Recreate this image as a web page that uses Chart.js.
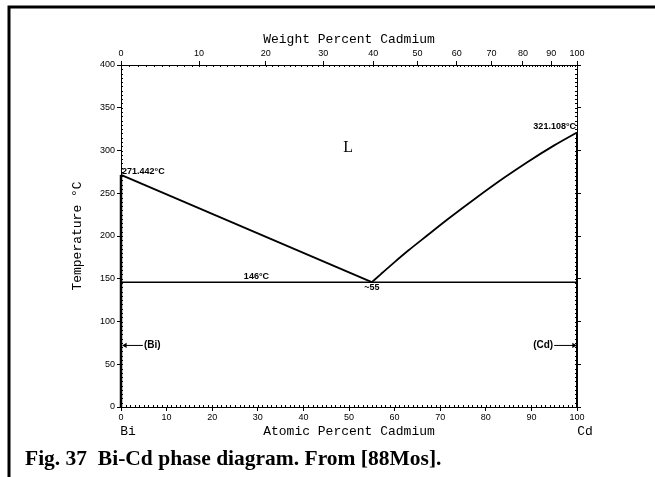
<!DOCTYPE html>
<html>
<head>
<meta charset="utf-8">
<script src="https://cdn.jsdelivr.net/npm/chart.js@4.4.1/dist/chart.umd.min.js"></script>
<style>
html, body { margin: 0; padding: 0; background: #fff; }
#wrap { position: relative; width: 655px; height: 477px; }
</style>
</head>
<body>
<div id="wrap"><canvas id="phase" width="655" height="477"></canvas></div>
<script>
// Bi-Cd phase diagram (atomic % Cd vs temperature)

const liqBiX = [0, 55];
const liqBiT = [271.442, 146];
const liqCdX = [55, 57, 60, 63, 67, 72, 78, 84, 89, 95, 100];
const liqCdT = [146, 155.5, 169.5, 183, 200, 221, 245, 268, 286, 306, 321.108];
const eutX = [0, 100];
const eutT = [146, 146];
const biPureT = [0, 271.442];
const cdPureT = [0, 321.108];
const biArrowX = [0.9, 4.8];
const cdArrowX = [95, 99.3];
const arrowT = [72, 72];

const atTicks = [0, 10, 20, 30, 40, 50, 60, 70, 80, 90, 100];
const tempTicks = [0, 50, 100, 150, 200, 250, 300, 350, 400];
const wtTicks = [0, 10, 20, 30, 40, 50, 60, 70, 80, 90, 100];

const M_BI = 208.98;
const M_CD = 112.41;

// weight % Cd -> atomic % Cd
function wtToAt(w) {
    const nCd = w / M_CD;
    const nBi = (100 - w) / M_BI;
    return nCd / (nCd + nBi) * 100;
}

const pts = (xs, ys) => xs.map((x, i) => ({ x: x, y: ys[i] }));

const lineSet = (data, width) => ({
    data: data,
    showLine: true,
    borderColor: '#000',
    borderWidth: width,
    pointRadius: 0,
    clip: 6
});

const tickFont = { family: 'Liberation Sans', size: 9 };

function axisGrid(len) {
    return { drawOnChartArea: false, drawTicks: true, tickLength: len, color: '#000', lineWidth: 1 };
}

// small minor ticks and all the loose text
const decorPlugin = {
    id: 'decor',
    afterDraw(chart) {
        const ctx = chart.ctx;
        const sx = chart.scales.x;
        const sy = chart.scales.y;
        const area = chart.chartArea;

        ctx.save();
        ctx.strokeStyle = '#000';
        ctx.lineWidth = 1;
        ctx.beginPath();
        for (let a = 0; a <= 100; a++) {
            const px = Math.round(sx.getPixelForValue(a)) + 0.5;
            ctx.moveTo(px, area.bottom);
            ctx.lineTo(px, area.bottom - 2);
        }
        for (let w = 0; w <= 100; w++) {
            const px = Math.round(sx.getPixelForValue(wtToAt(w))) + 0.5;
            ctx.moveTo(px, area.top);
            ctx.lineTo(px, area.top + 2);
        }
        for (let t = 0; t <= 400; t += 5) {
            const py = Math.round(sy.getPixelForValue(t)) + 0.5;
            ctx.moveTo(area.left, py);
            ctx.lineTo(area.left + 2, py);
            ctx.moveTo(area.right, py);
            ctx.lineTo(area.right - 2, py);
        }
        ctx.stroke();

        // page frame
        ctx.lineWidth = 3;
        ctx.beginPath();
        ctx.moveTo(9, 477);
        ctx.lineTo(9, 7);
        ctx.lineTo(655, 7);
        ctx.stroke();

        ctx.fillStyle = '#000';
        const midX = (area.left + area.right) / 2;

        ctx.font = '13px "Liberation Mono"';
        ctx.textAlign = 'center';
        ctx.textBaseline = 'middle';
        ctx.fillText('Weight Percent Cadmium', midX, 40);
        ctx.fillText('Atomic Percent Cadmium', midX, 432);
        ctx.fillText('Bi', sx.getPixelForValue(0) + 7, 432);
        ctx.fillText('Cd', sx.getPixelForValue(100) + 8, 432);

        ctx.save();
        ctx.translate(78, 236);
        ctx.rotate(-Math.PI / 2);
        ctx.fillText('Temperature °C', 0, 0);
        ctx.restore();

        ctx.font = '16px "Liberation Serif"';
        ctx.fillText('L', sx.getPixelForValue(49.8), sy.getPixelForValue(303));

        ctx.font = 'bold 9px "Liberation Sans"';
        ctx.textAlign = 'left';
        ctx.textBaseline = 'bottom';
        ctx.fillText('271.442°C', sx.getPixelForValue(0) + 1, sy.getPixelForValue(271.442) + 1);
        ctx.textAlign = 'right';
        ctx.fillText('321.108°C', sx.getPixelForValue(100) - 1, sy.getPixelForValue(321.108) - 1);
        ctx.textAlign = 'center';
        ctx.fillText('146°C', sx.getPixelForValue(29.7), sy.getPixelForValue(146) - 1);
        ctx.textBaseline = 'top';
        ctx.fillText('~55', sx.getPixelForValue(55), sy.getPixelForValue(146) + 1);

        ctx.font = 'bold 10px "Liberation Sans"';
        ctx.textBaseline = 'middle';
        ctx.textAlign = 'left';
        ctx.fillText('(Bi)', sx.getPixelForValue(biArrowX[1]) + 1, sy.getPixelForValue(arrowT[0]));
        ctx.textAlign = 'right';
        ctx.fillText('(Cd)', sx.getPixelForValue(cdArrowX[0]) - 1, sy.getPixelForValue(arrowT[1]));

        ctx.font = 'bold 21.5px "Liberation Serif"';
        ctx.textAlign = 'left';
        ctx.textBaseline = 'alphabetic';
        ctx.fillText('Fig. 37  Bi-Cd phase diagram. From [88Mos].', 25, 465);
        ctx.restore();
    }
};

new Chart(document.getElementById('phase'), {
    type: 'scatter',
    data: {
        datasets: [
            lineSet(pts(liqBiX, liqBiT), 1.8),
            Object.assign(lineSet(pts(liqCdX, liqCdT), 1.8), { cubicInterpolationMode: 'monotone' }),
            lineSet(pts(eutX, eutT), 1.5),
            lineSet(pts([0, 0], biPureT), 2.5),
            lineSet(pts([100, 100], cdPureT), 2),
            Object.assign(lineSet(pts(biArrowX, arrowT), 1), {
                pointRadius: [3, 0], pointStyle: 'triangle', rotation: -90,
                pointBackgroundColor: '#000', pointBorderWidth: 0
            }),
            Object.assign(lineSet(pts(cdArrowX, arrowT), 1), {
                pointRadius: [0, 3], pointStyle: 'triangle', rotation: 90,
                pointBackgroundColor: '#000', pointBorderWidth: 0
            })
        ]
    },
    options: {
        responsive: false,
        animation: false,
        devicePixelRatio: 1,
        layout: { padding: 0 },
        plugins: {
            legend: { display: false },
            tooltip: { enabled: false }
        },
        scales: {
            x: {
                type: 'linear',
                position: 'bottom',
                min: 0,
                max: 100,
                afterBuildTicks: (s) => { s.ticks = atTicks.map(v => ({ value: v })); },
                afterFit: (s) => { s.height = 70; },
                ticks: { font: tickFont, color: '#000', padding: 1, maxRotation: 0, autoSkip: false },
                grid: axisGrid(4),
                border: { display: true, color: '#000', width: 1 }
            },
            x2: {
                type: 'linear',
                position: 'top',
                min: 0,
                max: 100,
                afterBuildTicks: (s) => { s.ticks = wtTicks.map(w => ({ value: wtToAt(w) })); },
                afterFit: (s) => { s.height = 65; },
                ticks: {
                    font: tickFont, color: '#000', padding: 2, maxRotation: 0, autoSkip: false,
                    callback: (v, i) => wtTicks[i]
                },
                grid: axisGrid(4),
                border: { display: true, color: '#000', width: 1 }
            },
            y: {
                type: 'linear',
                position: 'left',
                min: 0,
                max: 400,
                afterBuildTicks: (s) => { s.ticks = tempTicks.map(v => ({ value: v })); },
                afterFit: (s) => { s.width = 121; },
                ticks: { font: tickFont, color: '#000', padding: 2 },
                grid: axisGrid(4),
                border: { display: true, color: '#000', width: 1 }
            },
            y2: {
                type: 'linear',
                position: 'right',
                min: 0,
                max: 400,
                afterBuildTicks: (s) => { s.ticks = tempTicks.map(v => ({ value: v })); },
                afterFit: (s) => { s.width = 78; },
                ticks: { display: false },
                grid: axisGrid(4),
                border: { display: true, color: '#000', width: 1 }
            }
        }
    },
    plugins: [decorPlugin]
});
</script>
</body>
</html>
